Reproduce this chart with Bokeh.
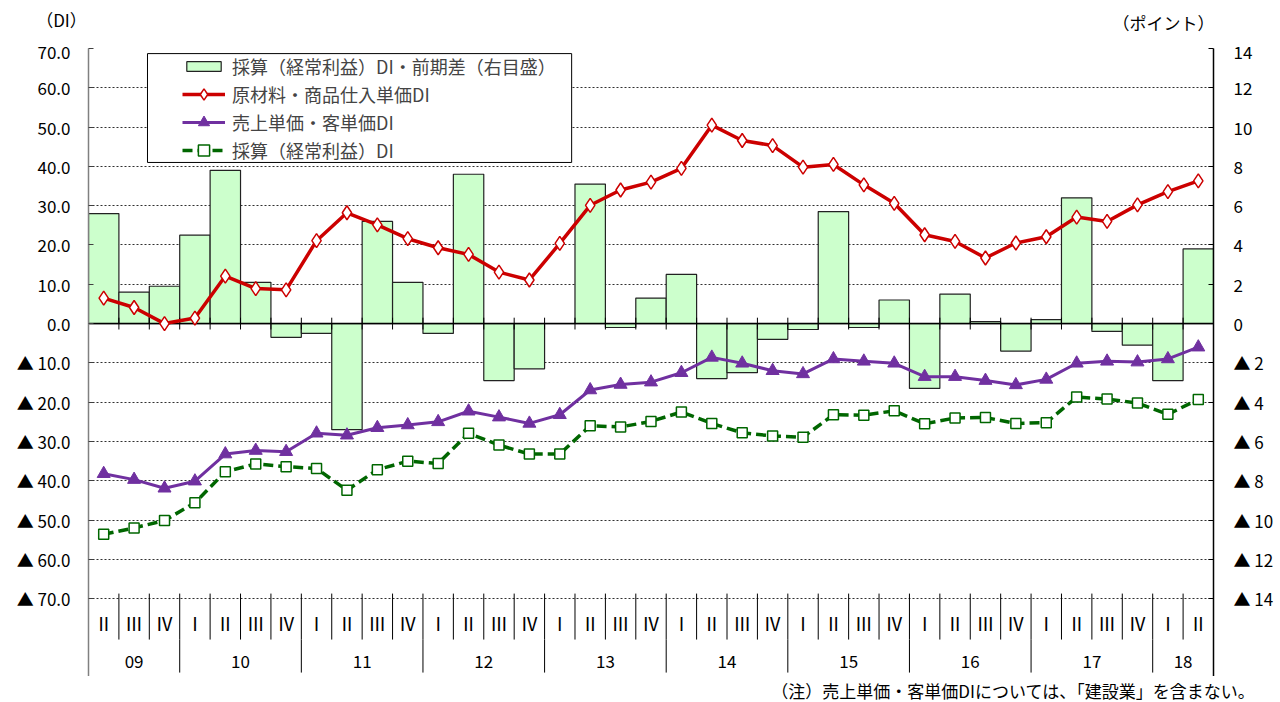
from bokeh.plotting import figure
from bokeh.layouts import column
from bokeh.models import (Range1d, LinearAxis, FixedTicker, Legend, LegendItem,
                          BoxAnnotation)
from bokeh.embed import file_html
from bokeh.resources import INLINE
from bokeh.core.properties import value

FONT = "Noto Sans CJK JP"

# ---- data ----
quarters = ["Ⅱ", "Ⅲ", "Ⅳ"] + ["Ⅰ", "Ⅱ", "Ⅲ", "Ⅳ"] * 8 + ["Ⅰ", "Ⅱ"]
years = ["09", "10", "11", "12", "13", "14", "15", "16", "17", "18"]
year_counts = [3, 4, 4, 4, 4, 4, 4, 4, 4, 2]

# 採算（経常利益）DI・前期差（右目盛, ポイント）
profit_change = [5.6, 1.6, 1.9, 4.5, 7.8, 2.1, -0.7, -0.5, -5.4, 5.2, 2.1, -0.5,
                 7.6, -2.9, -2.3, 0.0, 7.1, -0.2, 1.3, 2.5, -2.8, -2.5, -0.8, -0.3,
                 5.7, -0.2, 1.2, -3.3, 1.5, 0.1, -1.4, 0.2, 6.4, -0.4, -1.1, -2.9, 3.8]
# 原材料・商品仕入単価DI
material_di = [6.5, 4.1, 0.0, 1.4, 12.1, 8.9, 8.6, 21.1, 28.2, 25.1, 21.6, 19.3,
               17.6, 13.1, 11.1, 20.4, 30.1, 34.0, 36.0, 39.5, 50.5, 46.6, 45.3, 39.8,
               40.5, 35.3, 30.6, 22.6, 20.9, 16.7, 20.5, 22.1, 27.1, 26.0, 30.2, 33.6, 36.3]
# 売上単価・客単価DI
sales_di = [-38.2, -39.7, -41.9, -40.1, -33.2, -32.3, -32.6, -27.9, -28.4, -26.5, -25.8, -25.0,
            -22.3, -23.8, -25.4, -23.2, -16.9, -15.5, -14.9, -12.5, -8.6, -10.1, -12.0, -12.8,
            -9.0, -9.6, -10.1, -13.5, -13.5, -14.5, -15.6, -14.2, -10.1, -9.6, -9.8, -9.0, -6.0]
# 採算（経常利益）DI
profit_di = [-53.6, -52.0, -50.1, -45.6, -37.7, -35.7, -36.4, -36.9, -42.4, -37.2, -35.0, -35.6,
             -27.9, -30.9, -33.2, -33.2, -26.0, -26.3, -24.9, -22.5, -25.4, -27.8, -28.6, -28.9,
             -23.2, -23.3, -22.2, -25.5, -24.0, -23.9, -25.4, -25.2, -18.7, -19.2, -20.2, -23.1, -19.3]

left_ticks = list(range(-70, 71, 10))
right_ticks = list(range(-14, 15, 2))

left_unit = "（DI）"
right_unit = "（ポイント）"
note = "（注）売上単価・客単価DIについては、「建設業」を含まない。"

n = len(quarters)
xs = [i + 0.5 for i in range(n)]
bounds = list(range(n + 1))
year_bounds = [0]
for c in year_counts:
    year_bounds.append(year_bounds[-1] + c)
year_centers = [(year_bounds[k] + year_bounds[k + 1]) / 2 for k in range(len(years))]

# ---- layout constants ----
W = 1280
Y_MIN = -89.8      # frame bottom (below the category labels)
SEP_BOTTOM = -88.8  # bottom of year separators
Q_LABEL_Y = -76.3
YEAR_LABEL_Y = -86.0


def blank(h, yr):
    f = figure(width=W, height=h, x_range=Range1d(0, W), y_range=yr,
               x_axis_type=None, y_axis_type=None, output_backend="svg",
               toolbar_location=None, min_border=0)
    f.outline_line_color = None
    f.xgrid.visible = False
    f.ygrid.visible = False
    f.frame_align = False
    return f


# header with unit labels
head = blank(38, Range1d(38, 0))
head.text(x=[61], y=[19], text=[left_unit], text_font=value(FONT), text_font_size="17px",
          text_align="center", text_baseline="middle", text_color="black")
head.text(x=[1163], y=[22], text=[right_unit], text_font=value(FONT), text_font_size="17px",
          text_align="center", text_baseline="middle", text_color="black")

# main chart
p = figure(width=W, height=638, x_range=Range1d(0, n), y_range=Range1d(Y_MIN, 70),
           x_axis_type=None, output_backend="svg", toolbar_location=None,
           min_border_left=88, min_border_right=67, min_border_top=10, min_border_bottom=0)
p.outline_line_color = None
p.background_fill_color = "white"
p.frame_align = False

ya = p.yaxis[0]
ya.ticker = FixedTicker(ticks=left_ticks)
ya.major_label_overrides = {t: (f"{t:.1f}" if t >= 0 else f"▲ {abs(t):.1f}") for t in left_ticks}
ya.major_tick_in = 5
ya.major_tick_out = 0
ya.minor_tick_line_color = None
ya.major_label_standoff = 18
ya.major_label_text_font = FONT
ya.major_label_text_font_size = "17px"
ya.major_label_text_color = "black"
ya.axis_line_color = "#808080"
ya.axis_line_width = 1.5
ya.major_tick_line_color = "#404040"

p.ygrid.ticker = FixedTicker(ticks=left_ticks)
p.ygrid.grid_line_color = "#303030"
p.ygrid.grid_line_dash = "2 2"
p.ygrid.grid_line_width = 1

p.extra_y_ranges = {"pt": Range1d(Y_MIN / 5, 14)}
ra = LinearAxis(y_range_name="pt", ticker=FixedTicker(ticks=right_ticks))
ra.major_label_overrides = {t: (f"{t}" if t >= 0 else f"▲ {abs(t)}") for t in right_ticks}
ra.major_tick_in = 5
ra.major_tick_out = 0
ra.minor_tick_line_color = None
ra.major_label_standoff = 20
ra.major_label_text_font = FONT
ra.major_label_text_font_size = "17px"
ra.major_label_text_color = "black"
ra.axis_line_color = "black"
ra.axis_line_width = 1.5
p.add_layout(ra, "right")

bars = p.vbar(x=xs, top=profit_change, bottom=0, width=1, y_range_name="pt",
              fill_color="#ccffcc", line_color="#222222", line_width=1.2)

p.hspan(y=[0], line_color="black", line_width=1.5)
p.segment(x0=bounds, y0=[-1.5] * len(bounds), x1=bounds, y1=[1.5] * len(bounds),
          line_color="black", line_width=1)

p.segment(x0=bounds, y0=[-68.7] * len(bounds), x1=bounds, y1=[-80.4] * len(bounds),
          line_color="black", line_width=1)
p.segment(x0=year_bounds, y0=[-80.4] * len(year_bounds), x1=year_bounds,
          y1=[SEP_BOTTOM] * len(year_bounds), line_color="black", line_width=1)

p.text(x=xs, y=[Q_LABEL_Y] * n, text=quarters, text_font=value(FONT),
       text_font_size="18px", text_align="center", text_baseline="middle", text_color="black")
p.text(x=year_centers, y=[YEAR_LABEL_Y] * len(years), text=years, text_font=value(FONT),
       text_font_size="17px", text_align="center", text_baseline="middle", text_color="black")

g_line = p.line(xs, profit_di, line_color="#006600", line_width=3.5, line_dash="10 5")
g_mark = p.scatter(xs, profit_di, marker="square", size=10, fill_color="white",
                   line_color="#006600", line_width=1.5)
pu_line = p.line(xs, sales_di, line_color="#7030a0", line_width=3)
pu_mark = p.scatter(xs, sales_di, marker="triangle", size=13, fill_color="#7030a0",
                    line_color="#7030a0")
r_line = p.line(xs, material_di, line_color="#cc0000", line_width=3.5)
r_mark = p.scatter(xs, material_di, marker="diamond", size=14, fill_color="white",
                   line_color="#cc0000", line_width=1.5)

box = BoxAnnotation(left=1.94, right=15.89, top=68.7, bottom=41.0, fill_color="white",
                    fill_alpha=1.0, line_color="black", line_width=1, line_alpha=1.0)
p.add_layout(box)

legend_style = dict(padding=4, spacing=0, glyph_width=43, label_height=26, label_standoff=7,
                    label_text_font=FONT, label_text_font_size="18px",
                    border_line_color=None, background_fill_alpha=0, margin=0)
legend_bar = Legend(items=[
    LegendItem(label="採算（経常利益）DI・前期差（右目盛）", renderers=[bars]),
], location=(94, 597), glyph_height=12, **legend_style)
legend_lines = Legend(items=[
    LegendItem(label="原材料・商品仕入単価DI", renderers=[r_line, r_mark]),
    LegendItem(label="売上単価・客単価DI", renderers=[pu_line, pu_mark]),
    LegendItem(label="採算（経常利益）DI", renderers=[g_line, g_mark]),
], location=(94, 512), glyph_height=28, **legend_style)
p.add_layout(legend_bar)
p.add_layout(legend_lines)

# footer with note
foot = blank(26, Range1d(26, 0))
foot.text(x=[1255], y=[14], text=[note], text_font=value(FONT), text_font_size="17px",
          text_align="right", text_baseline="middle", text_color="black")

layout = column(head, p, foot, spacing=0)
open("out.html", "w").write(file_html(layout, INLINE))
